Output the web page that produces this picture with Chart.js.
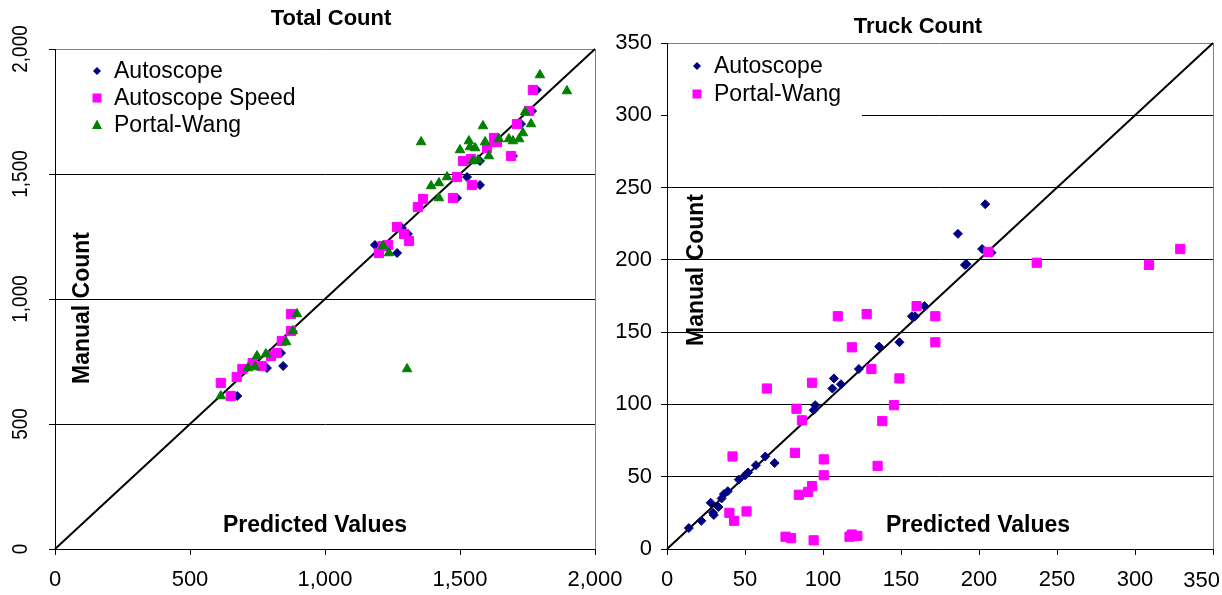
<!DOCTYPE html>
<html>
<head>
<meta charset="utf-8">
<script src="https://cdn.jsdelivr.net/npm/chart.js@4/dist/chart.umd.min.js"></script>
<style>
    html, body { margin: 0; padding: 0; background: #fff; }
    #wrap { position: relative; width: 1222px; height: 595px; overflow: hidden; }
    #totalChart { position: absolute; left: 0; top: 0; }
    #truckChart { position: absolute; left: 600px; top: 0; }
</style>
</head>
<body>
<div id="wrap">
    <canvas id="totalChart" width="630" height="595"></canvas>
    <canvas id="truckChart" width="622" height="595"></canvas>
</div>
<script>
// ==================== DONNEES ====================

// Total Count : x = valeur predite, y = comptage manuel
const totalTicks = [0, 500, 1000, 1500, 2000];
const totalAutoscopeX = [675, 785, 845, 837, 880, 1185, 1267, 1307, 1285, 1489, 1526, 1574, 1574, 1696, 1726, 1767, 1785];
const totalAutoscopeY = [612, 724, 732, 784, 870, 1216, 1184, 1260, 1284, 1404, 1488, 1456, 1552, 1572, 1700, 1752, 1836];

const totalSpeedX = [614, 651, 673, 694, 732, 765, 800, 821, 840, 874, 874, 1200, 1214, 1234, 1267, 1293, 1311, 1344, 1363, 1474, 1489, 1511, 1541, 1544, 1600, 1626, 1637, 1689, 1711, 1756, 1770];
const totalSpeedY = [664, 612, 688, 720, 744, 732, 772, 784, 832, 872, 940, 1184, 1212, 1216, 1288, 1260, 1232, 1368, 1400, 1404, 1488, 1552, 1560, 1456, 1604, 1644, 1628, 1572, 1700, 1752, 1836];

const totalPortalX = [614, 715, 741, 748, 781, 856, 881, 896, 1304, 1215, 1237, 1356, 1393, 1422, 1422, 1452, 1500, 1533, 1537, 1556, 1548, 1567, 1585, 1593, 1607, 1644, 1681, 1696, 1719, 1733, 1741, 1763, 1796, 1896];
const totalPortalY = [612, 724, 728, 772, 780, 828, 872, 940, 720, 1212, 1184, 1628, 1452, 1464, 1404, 1488, 1596, 1632, 1608, 1604, 1552, 1556, 1692, 1628, 1572, 1640, 1640, 1632, 1640, 1664, 1748, 1700, 1896, 1832];

// Truck Count
const truckTicks = [0, 50, 100, 150, 200, 250, 300, 350];
const truckAutoscopeX = [14, 22, 28, 29.5, 30, 33, 35, 36.5, 39, 46, 50, 52, 57, 63, 69, 94, 95, 106, 107, 111.5, 123, 136, 149, 157, 159, 165, 186.5, 191, 192, 202, 204, 208];
const truckAutoscopeY = [14.5, 19.5, 32, 25, 23.5, 29, 35, 38, 40, 48, 51, 53, 58, 64, 59.5, 96, 99.5, 111, 118, 114, 124.5, 140, 143, 161, 161, 168, 218, 196.5, 197, 207.5, 238.5, 205];

const truckPortalX = [40, 42, 43, 51, 64, 76, 79.5, 82, 83, 84.5, 86.5, 90.5, 93, 93, 94, 100.5, 100.5, 109.5, 117, 118.5, 118.5, 122, 128, 131, 135, 138, 145.5, 149, 160, 172, 172, 206, 237, 309, 329];
const truckPortalY = [25, 64, 19.5, 26, 111, 8.5, 7.5, 66.5, 97, 37.5, 89, 39.5, 43.5, 115, 6, 62, 51, 161, 8.5, 10, 139.5, 9, 162.5, 124.5, 57.5, 88.5, 99.5, 118, 168, 161, 143, 205.5, 198, 196.5, 207.5];

// ==================== STYLES ====================

const FONT = 'Arial, "Liberation Sans", sans-serif';
const NAVY = '#000080';
const MAGENTA = '#FF00FF';
const GREEN = '#008000';

Chart.defaults.font.family = FONT;
Chart.defaults.color = '#000';

function points(xs, ys) {
    return xs.map((x, i) => ({ x: x, y: ys[i] }));
}

function fmt(v) {
    return Number(v).toLocaleString('en-US');
}

function drawMarker(ctx, style, x, y, color) {
    ctx.fillStyle = color;
    ctx.beginPath();
    if (style === 'diamond') {
        ctx.moveTo(x, y - 4); ctx.lineTo(x + 4, y); ctx.lineTo(x, y + 4); ctx.lineTo(x - 4, y);
    } else if (style === 'square') {
        ctx.rect(x - 4.5, y - 4.5, 9, 9);
    } else {
        ctx.moveTo(x, y - 5.5); ctx.lineTo(x + 5, y + 4); ctx.lineTo(x - 5, y + 4);
    }
    ctx.closePath();
    ctx.fill();
}

// Titres, legende interne et libelles d'axe dessines dans la zone du graphique
function makeDecor(cfg) {
    return {
        id: 'decor',
        beforeDatasetsDraw(chart) {
            const a = chart.chartArea;
            const ctx = chart.ctx;
            ctx.save();
            ctx.fillStyle = '#fff';
            ctx.fillRect(a.left + 1, a.top + 1, cfg.boxW, cfg.boxH);
            ctx.restore();
        },
        afterDraw(chart) {
            const ctx = chart.ctx;
            const a = chart.chartArea;
            ctx.save();
            ctx.fillStyle = '#000';
            ctx.textAlign = 'center';
            ctx.textBaseline = 'middle';

            ctx.font = 'bold 22px ' + FONT;
            ctx.fillText(cfg.title, cfg.titleX, cfg.titleY);

            ctx.font = 'bold 23px ' + FONT;
            ctx.fillText('Predicted Values', cfg.predX, a.bottom - 23);

            ctx.save();
            ctx.translate(a.left + cfg.manualDX, cfg.manualY);
            ctx.rotate(-Math.PI / 2);
            ctx.fillText('Manual Count', 0, 0);
            ctx.restore();

            // libelles Y tournes (graphique de gauche)
            if (cfg.rotatedY) {
                const ys = chart.scales.y;
                ctx.font = '22px ' + FONT;
                ys.ticks.forEach(t => {
                    const py = ys.getPixelForValue(t.value);
                    ctx.save();
                    ctx.translate(21, py);
                    ctx.rotate(-Math.PI / 2);
                    ctx.scale(0.86, 1);
                    ctx.fillText(fmt(t.value), 0, 0);
                    ctx.restore();
                });
            }

            // dernier libelle X ramene dans la page
            if (cfg.lastX) {
                const xs = chart.scales.x;
                ctx.font = '22px ' + FONT;
                ctx.textAlign = 'right';
                ctx.fillText(fmt(xs.max), chart.width - 2, a.bottom + 32);
            }

            // legende
            ctx.font = '23px ' + FONT;
            ctx.textAlign = 'left';
            cfg.legend.forEach((item, i) => {
                const y = cfg.legendY + i * cfg.legendStep;
                drawMarker(ctx, item.style, a.left + cfg.legendDX, y, item.color);
                ctx.fillStyle = '#000';
                ctx.fillText(item.label, a.left + cfg.legendDX + 17, y + 1);
            });
            ctx.restore();
        }
    };
}

function makeScales(max, ticks, yWidth, rotatedY, hideLastX) {
    return {
        x: {
            type: 'linear',
            min: 0,
            max: max,
            afterBuildTicks: s => { s.ticks = ticks.map(v => ({ value: v })); },
            afterFit: s => { s.height = 46; s.paddingLeft = 0; s.paddingRight = 0; },
            border: { color: '#000', width: 1 },
            grid: {
                color: c => (c.tick && c.tick.value === max) ? '#808080' : 'rgba(0,0,0,0)',
                tickColor: '#000',
                tickLength: 6
            },
            ticks: {
                font: { size: 22 },
                color: '#000',
                padding: 12,
                maxRotation: 0,
                callback: v => (hideLastX && v === max) ? '' : fmt(v)
            }
        },
        y: {
            type: 'linear',
            min: 0,
            max: max,
            afterBuildTicks: s => { s.ticks = ticks.map(v => ({ value: v })); },
            afterFit: s => { s.width = yWidth; s.paddingTop = 0; s.paddingBottom = 0; },
            border: { color: '#000', width: 1 },
            grid: {
                color: c => (c.tick && c.tick.value === max) ? '#808080' : '#000',
                tickColor: '#000',
                tickLength: 6
            },
            ticks: {
                display: !rotatedY,
                font: { size: 22 },
                color: '#000',
                padding: 9,
                callback: v => fmt(v)
            }
        }
    };
}

function diagonal(max) {
    return {
        label: 'diag',
        data: [{ x: 0, y: 0 }, { x: max, y: max }],
        showLine: true,
        borderColor: '#000',
        borderWidth: 2,
        pointRadius: 0,
        clip: 4,
        order: 4
    };
}

function serie(label, xs, ys, style, color, radius, order) {
    return {
        label: label,
        data: points(xs, ys),
        pointStyle: style,
        pointRadius: radius,
        pointBackgroundColor: color,
        pointBorderColor: color,
        pointBorderWidth: 1,
        showLine: false,
        order: order
    };
}

// ==================== GRAPHIQUE TOTAL ====================

new Chart(document.getElementById('totalChart'), {
    type: 'scatter',
    data: {
        datasets: [
            diagonal(2000),
            serie('Autoscope', totalAutoscopeX, totalAutoscopeY, 'rectRot', NAVY, 4.5, 3),
            serie('Autoscope Speed', totalSpeedX, totalSpeedY, 'rect', MAGENTA, 6.5, 2),
            serie('Portal-Wang', totalPortalX, totalPortalY, 'triangle', GREEN, 5.5, 1)
        ]
    },
    options: {
        responsive: false,
        animation: false,
        layout: { padding: { left: 0, right: 35, top: 49, bottom: 0 } },
        plugins: { legend: { display: false }, tooltip: { enabled: false } },
        scales: makeScales(2000, totalTicks, 55, true, false)
    },
    plugins: [makeDecor({
        title: 'Total Count', titleX: 331, titleY: 19,
        predX: 315, manualDX: 28, manualY: 308, rotatedY: true, lastX: false,
        boxW: 240, boxH: 92,
        legendDX: 42, legendY: 71, legendStep: 27,
        legend: [
            { label: 'Autoscope', style: 'diamond', color: NAVY },
            { label: 'Autoscope Speed', style: 'square', color: MAGENTA },
            { label: 'Portal-Wang', style: 'triangle', color: GREEN }
        ]
    })]
});

// ==================== GRAPHIQUE CAMIONS ====================

new Chart(document.getElementById('truckChart'), {
    type: 'scatter',
    data: {
        datasets: [
            diagonal(350),
            serie('Autoscope', truckAutoscopeX, truckAutoscopeY, 'rectRot', NAVY, 4.5, 3),
            serie('Portal-Wang', truckPortalX, truckPortalY, 'rect', MAGENTA, 6.5, 2)
        ]
    },
    options: {
        responsive: false,
        animation: false,
        layout: { padding: { left: 0, right: 9, top: 43, bottom: 0 } },
        plugins: { legend: { display: false }, tooltip: { enabled: false } },
        scales: makeScales(350, truckTicks, 67, false, true)
    },
    plugins: [makeDecor({
        title: 'Truck Count', titleX: 318, titleY: 27,
        predX: 378, manualDX: 30, manualY: 270, rotatedY: false, lastX: true,
        boxW: 194, boxH: 75,
        legendDX: 30, legendY: 66, legendStep: 28,
        legend: [
            { label: 'Autoscope', style: 'diamond', color: NAVY },
            { label: 'Portal-Wang', style: 'square', color: MAGENTA }
        ]
    })]
});
</script>
</body>
</html>
